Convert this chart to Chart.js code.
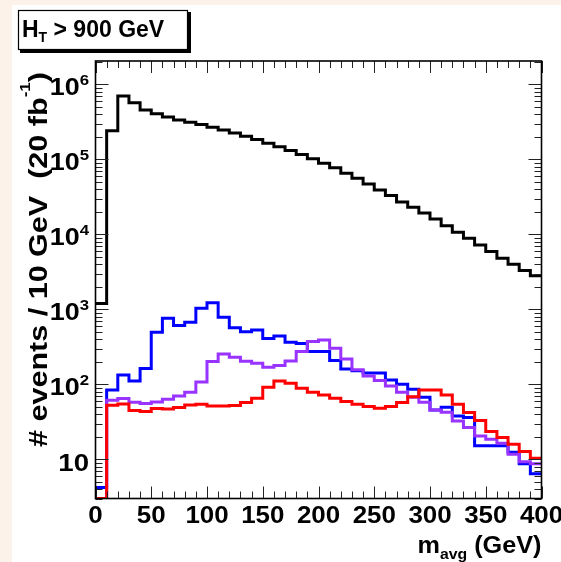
<!DOCTYPE html>
<html lang="en">
  <head>
    <meta charset="utf-8" />
    <script src="https://cdn.jsdelivr.net/npm/chart.js"></script>
    <title>m_avg, HT > 900 GeV</title>
    <style>
      body {
        margin: 0;
        padding: 0;
        background: #fcf2e9;
      }
      canvas {
        display: block;
      }
    </style>
  </head>
  <body>
    <canvas id="histo" width="561" height="562"></canvas>

    <script>
      // bin edges in GeV (10 GeV bins, 0-400)
      const massBins = [0, 10, 20, 30, 40, 50, 60, 70, 80, 90, 100, 110, 120, 130, 140, 150, 160, 170, 180, 190,
        200, 210, 220, 230, 240, 250, 260, 270, 280, 290, 300, 310, 320, 330, 340, 350, 360, 370, 380, 390, 400];

      // events per bin
      const blackCounts = [1200, 2.4e5, 7.0e5, 5.7e5, 4.57e5, 4.05e5, 3.66e5, 3.36e5, 3.13e5, 2.91e5,
        2.69e5, 2.47e5, 2.25e5, 2.04e5, 1.84e5, 1.64e5, 1.47e5, 1.31e5, 1.16e5, 1.02e5,
        8.9e4, 7.7e4, 6.55e4, 5.6e4, 4.7e4, 3.9e4, 3.3e4, 2.7e4, 2.3e4, 1.92e4,
        1.6e4, 1.3e4, 1.07e4, 8.9e3, 7.2e3, 5.9e3, 4.8e3, 4.0e3, 3.3e3, 2.8e3];
      const blueCounts = [4.2, 84, 133, 111, 162, 495, 761, 607, 673, 1035,
        1228, 785, 570, 504, 531, 407, 442, 364, 349, 273,
        273, 207, 160, 152, 141, 141, 114, 100, 86, 67,
        45.6, 49.5, 37.9, 36, 15.1, 15.1, 15.1, 12.4, 8.7, 6.4];
      const purpleCounts = [3, 61.4, 64.5, 57.7, 55.3, 58.3, 63.3, 70, 78.5, 107,
        201, 254, 230, 203, 191, 169, 178, 205, 273, 371,
        391, 303, 218, 156, 129, 112, 95, 78.5, 67, 57.7,
        45.6, 42.5, 32.5, 26.5, 20.5, 18.5, 16.4, 11.7, 9.3, 8.7];
      const redCounts = [3, 52.7, 54.8, 44.6, 43.3, 47.4, 47, 48.9, 53.1, 54.1,
        51.5, 51.5, 52, 57, 65.3, 91.5, 111, 103, 88.7, 78.5,
        72.2, 65.3, 58.8, 54.1, 50.4, 48, 50.4, 57, 68.5, 84,
        84, 72.2, 54.1, 42, 32.8, 23.4, 19.5, 15.9, 12.7, 10.3];

      const xTickLabels = [0, 50, 100, 150, 200, 250, 300, 350, 400];
      const yDecades = [10, 100, 1000, 10000, 100000, 1000000];
      const yExponents = ['', '2', '3', '4', '5', '6'];

      const FONT = '"Liberation Sans", Arial, Helvetica, sans-serif';

      // step histogram points: left edge of each bin + closing point at 400
      function toSteps(counts) {
        return massBins.map(function (x, i) {
          return { x: x, y: counts[Math.min(i, counts.length - 1)] };
        });
      }

      function histo(counts, color, order) {
        return {
          data: toSteps(counts),
          borderColor: color,
          borderWidth: 3,
          stepped: 'before',
          pointRadius: 0,
          fill: false,
          borderJoinStyle: 'miter',
          borderCapStyle: 'butt',
          order: order
        };
      }

      // draws a run of text pieces [text, size, dy]; the ROOT text is a bit wider
      // than Liberation, so stretch horizontally by sx (or fit to a given width)
      function runWidth(c, runs) {
        let w = 0;
        runs.forEach(function (r) {
          c.font = 'bold ' + r[1] + 'px ' + FONT;
          w += c.measureText(r[0]).width;
        });
        return w;
      }
      function drawRun(c, runs, x, y, align, sx, fitW) {
        const w = runWidth(c, runs);
        if (fitW) sx = fitW / w;
        let x0 = x;
        if (align === 'right') x0 = x - w * sx;
        if (align === 'center') x0 = x - w * sx / 2;
        c.save();
        c.translate(x0, y);
        c.scale(sx, 1);
        c.textAlign = 'left';
        c.textBaseline = 'alphabetic';
        let cx = 0;
        runs.forEach(function (r) {
          c.font = 'bold ' + r[1] + 'px ' + FONT;
          c.fillText(r[0], cx, r[2]);
          cx += c.measureText(r[0]).width;
        });
        c.restore();
      }

      // frame, ticks and labels drawn ROOT-style on top of the chart area
      const rootFrame = {
        id: 'rootFrame',
        beforeDraw(chart) {
          const c = chart.ctx;
          c.save();
          c.fillStyle = '#fcf2e9';
          c.fillRect(0, 0, chart.width, chart.height);
          c.fillStyle = '#ffffff';
          c.fillRect(12, 5, chart.width - 12, chart.height - 5);
          c.restore();
        },
        afterDraw(chart) {
          const c = chart.ctx;
          const a = chart.chartArea;
          const xs = chart.scales.x;
          const ys = chart.scales.y;
          c.save();

          // ticks
          c.strokeStyle = '#222';
          c.lineWidth = 1;
          c.beginPath();
          massBins.forEach(function (v) {
            const px = Math.round(xs.getPixelForValue(v)) + 0.5;
            const len = (v % 50 === 0) ? 12 : 7;
            c.moveTo(px, a.bottom); c.lineTo(px, a.bottom - len);
            c.moveTo(px, a.top); c.lineTo(px, a.top + len);
          });
          yDecades.concat([1]).forEach(function (d) {
            for (let k = 1; k <= 9; k++) {
              const v = d * k;
              if (v < ys.min || v > ys.max) continue;
              const py = Math.round(ys.getPixelForValue(v)) + 0.5;
              const len = (k === 1) ? 13 : 7;
              c.moveTo(a.left, py); c.lineTo(a.left + len, py);
              c.moveTo(a.right, py); c.lineTo(a.right - len, py);
            }
          });
          c.stroke();

          // frame
          c.strokeStyle = '#000';
          c.lineWidth = 1.6;
          c.strokeRect(a.left, a.top, a.right - a.left, a.bottom - a.top);

          c.fillStyle = '#000';

          // x labels
          xTickLabels.forEach(function (v) {
            drawRun(c, [[String(v), 24, 0]], xs.getPixelForValue(v), 523, 'center', 1.08);
          });

          // y labels with superscript exponents
          yDecades.forEach(function (v, i) {
            const py = ys.getPixelForValue(v);
            const ex = yExponents[i];
            if (ex === '') {
              drawRun(c, [['10', 24, 0]], 89, py + 11.5, 'right', 1.15);
            } else {
              drawRun(c, [['10', 24, 0], [ex, 15, -10]], 89, py + 11, 'right', 1.12);
            }
          });

          // x title: m_avg (GeV), right aligned to the frame
          drawRun(c, [['m', 24, 0], ['avg', 15, 6], [' (GeV)', 24, 0]], a.right, 553, 'right', 1, 124);

          // y title, rotated, ending near the top of the frame
          c.save();
          c.translate(47, 447);
          c.rotate(-Math.PI / 2);
          drawRun(c, [['# events / 10 GeV  (20 fb', 25, 0], ['-1', 14, -17], [')', 25, 0]], 0, 0, 'left', 1, 375);
          c.restore();

          // title box: H_T > 900 GeV
          c.fillStyle = '#000';
          c.fillRect(20, 12, 171, 41);
          c.fillStyle = '#fff';
          c.fillRect(18, 10, 170, 40);
          c.strokeStyle = '#000';
          c.lineWidth = 1.2;
          c.strokeRect(18.5, 10.5, 169, 39);
          c.fillStyle = '#000';
          drawRun(c, [['H', 23, 0], ['T', 14, 5], [' > 900 GeV', 23, 0]], 22, 37, 'left', 1);

          c.restore();
        }
      };

      const ctx = document.getElementById('histo').getContext('2d');
      const chart = new Chart(ctx, {
        type: 'line',
        data: {
          datasets: [
            histo(blackCounts, '#000000', 3),
            histo(blueCounts, '#0000ff', 2),
            histo(purpleCounts, '#9933ff', 1),
            histo(redCounts, '#ff0000', 0)
          ]
        },
        options: {
          responsive: false,
          devicePixelRatio: 1,
          animation: false,
          layout: {
            padding: { left: 95.5, right: 19.5, top: 61, bottom: 63.5 }
          },
          plugins: {
            legend: { display: false },
            tooltip: { enabled: false }
          },
          scales: {
            x: { type: 'linear', min: 0, max: 400, display: false },
            y: { type: 'logarithmic', min: 3, max: 2.05e6, display: false }
          }
        },
        plugins: [rootFrame]
      });
    </script>
  </body>
</html>
